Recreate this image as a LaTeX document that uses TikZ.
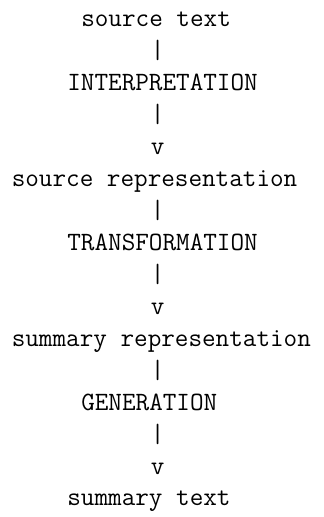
\documentclass[tikz,border=0pt]{standalone}
\begin{document}
\begin{tikzpicture}[x=0.5pt, y=-0.5pt, every node/.style={anchor=base west, inner sep=0pt,
                  font=\ttfamily\fontsize{13.2}{16}\selectfont}]
              \useasboundingbox (0,0) rectangle (324,517);
              \node (src) at (80.9,27) {source text};
              \node (bar1) at (150.4,58.9) {|};
              \node (interp) at (67.0,90.9) {INTERPRETATION};
              \node (bar2) at (150.4,122.8) {|};
              \node (tip1) at (150.4,154.7) {v};
              \node (srcrep) at (11.4,186.7) {source representation};
              \node (bar3) at (150.4,218.6) {|};
              \node (transf) at (67.0,250.5) {TRANSFORMATION};
              \node (bar4) at (150.4,282.4) {|};
              \node (tip2) at (150.4,314.4) {v};
              \node (sumrep) at (11.4,346.3) {summary representation};
              \node (bar5) at (150.4,378.2) {|};
              \node (gen) at (80.9,410.2) {GENERATION};
              \node (bar6) at (150.4,442.1) {|};
              \node (tip3) at (150.4,474.0) {v};
              \node (sumtext) at (67.0,505.9) {summary text};
          \end{tikzpicture}
\end{document}
